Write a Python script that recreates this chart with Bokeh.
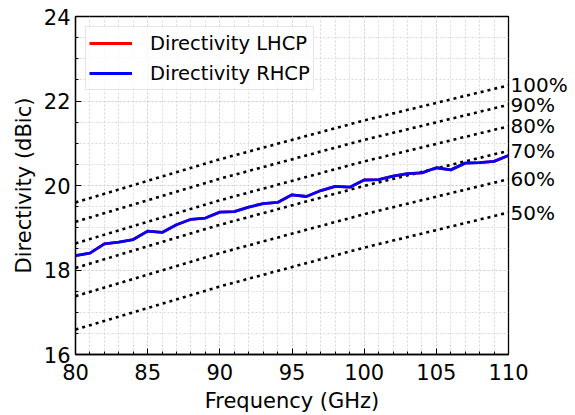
from bokeh.plotting import figure
from bokeh.models import (LinearAxis, FixedTicker, CustomJSTickFormatter, Range1d,
                          Legend, LegendItem)
from bokeh.embed import file_html
from bokeh.resources import INLINE

# ---- data ----
freq = [80, 81, 82, 83, 84, 85, 86, 87, 88, 89, 90, 91, 92, 93, 94, 95, 96, 97, 98, 99,
        100, 101, 102, 103, 104, 105, 106, 107, 108, 109, 110]
dir_rhcp = [18.34, 18.40, 18.62, 18.66, 18.72, 18.92, 18.89, 19.07, 19.20, 19.23, 19.37,
            19.38, 19.49, 19.57, 19.60, 19.78, 19.74, 19.88, 19.98, 19.96, 20.13,
            20.14, 20.22, 20.28, 20.30, 20.42, 20.37, 20.53, 20.54, 20.57, 20.71]
dir_lhcp = [18.34, 18.40, 18.62, 18.66, 18.72, 18.92, 18.89, 19.07, 19.20, 19.23, 19.37,
            19.38, 19.49, 19.57, 19.60, 19.78, 19.74, 19.88, 19.98, 19.96, 20.13,
            20.14, 20.22, 20.28, 20.30, 20.42, 20.37, 20.53, 20.54, 20.57, 20.71]

eff_freq = [80, 90, 100, 110]
eff_100 = [19.60, 20.62, 21.54, 22.37]
eff_90 = [19.14, 20.16, 21.08, 21.91]
eff_80 = [18.63, 19.65, 20.57, 21.40]
eff_70 = [18.05, 19.07, 19.99, 20.82]
eff_60 = [17.38, 18.40, 19.32, 20.15]
eff_50 = [16.59, 17.61, 18.53, 19.36]
eff_labels = ["100%", "90%", "80%", "70%", "60%", "50%"]

x_ticks = [80, 85, 90, 95, 100, 105, 110]
y_ticks = [16, 18, 20, 22, 24]

FONT = "DejaVu Sans"

p = figure(width=575, height=415, output_backend="svg", toolbar_location=None,
           x_range=Range1d(80, 110), y_range=Range1d(16, 24),
           min_border_left=75, min_border_top=16, min_border_right=67,
           min_border_bottom=61)

p.outline_line_color = "black"
p.outline_line_width = 1.3
p.background_fill_color = "white"
p.border_fill_color = "white"

# grids
for g in (p.xgrid[0], p.ygrid[0]):
    g.grid_line_color = "#cfcfcf"
    g.grid_line_dash = "2 2"
    g.grid_line_width = 0.8
    g.minor_grid_line_color = "#cfcfcf"
    g.minor_grid_line_dash = "2 2"
    g.minor_grid_line_width = 0.8

# efficiency lines
for ys in (eff_100, eff_90, eff_80, eff_70, eff_60, eff_50):
    p.line(eff_freq, ys, line_color="black", line_width=2.6, line_dash="3 4",
           line_cap="butt")

r_l = p.line(freq, dir_lhcp, line_color="#ff0000", line_width=2.8)
r_r = p.line(freq, dir_rhcp, line_color="#0000ff", line_width=2.8)

# axes
xa = p.xaxis[0]
xa.ticker = FixedTicker(ticks=x_ticks, minor_ticks=list(range(80, 111)))
ya = p.yaxis[0]
ya.ticker = FixedTicker(ticks=y_ticks, minor_ticks=[16 + 0.5 * i for i in range(17)])
xa.axis_label = "Frequency (GHz)"
ya.axis_label = "Directivity (dBic)"
for a in (xa, ya):
    a.axis_line_color = "black"
    a.axis_line_width = 1.3
    a.major_tick_in = 6
    a.major_tick_out = 0
    a.minor_tick_in = 3
    a.minor_tick_out = 0
    a.major_tick_line_color = "black"
    a.minor_tick_line_color = "black"
    a.major_label_text_font = FONT
    a.major_label_text_font_size = "21px"
    a.major_label_text_color = "black"
    a.axis_label_text_font = FONT
    a.axis_label_text_font_size = "21px"
    a.axis_label_text_font_style = "normal"
    a.axis_label_text_color = "black"
xa.major_label_standoff = 9
xa.axis_label_standoff = 6
ya.major_label_standoff = 5
ya.axis_label_standoff = 5

# right axis carrying the efficiency labels
ends = [eff_100[-1], eff_90[-1], eff_80[-1], eff_70[-1], eff_60[-1], eff_50[-1]]
ra = LinearAxis(ticker=FixedTicker(ticks=ends, minor_ticks=[]),
                formatter=CustomJSTickFormatter(args=dict(ends=ends, labels=eff_labels), code="""
                    for (let i = 0; i < ends.length; i++) {
                        if (Math.abs(ends[i] - tick) < 1e-6) return labels[i];
                    }
                    return '';
                """))
ra.axis_line_color = None
ra.major_tick_line_color = None
ra.minor_tick_line_color = None
ra.major_tick_in = 0
ra.major_tick_out = 0
ra.major_label_standoff = 2
ra.major_label_text_font = FONT
ra.major_label_text_font_size = "20px"
ra.major_label_text_color = "black"
p.add_layout(ra, "right")

legend = Legend(items=[LegendItem(label="Directivity LHCP", renderers=[r_l]),
                       LegendItem(label="Directivity RHCP", renderers=[r_r])],
                location="top_left")
legend.margin = 10
legend.padding = 3
legend.spacing = 4
legend.label_height = 26
legend.glyph_height = 26
legend.glyph_width = 43
legend.label_standoff = 18
legend.label_width = 150
legend.label_text_font = FONT
legend.label_text_font_size = "19.5px"
legend.label_text_color = "black"
legend.border_line_color = "#cccccc"
legend.border_line_width = 1
legend.background_fill_alpha = 0.8
p.add_layout(legend)

open("out.html", "w").write(file_html(p, INLINE))
